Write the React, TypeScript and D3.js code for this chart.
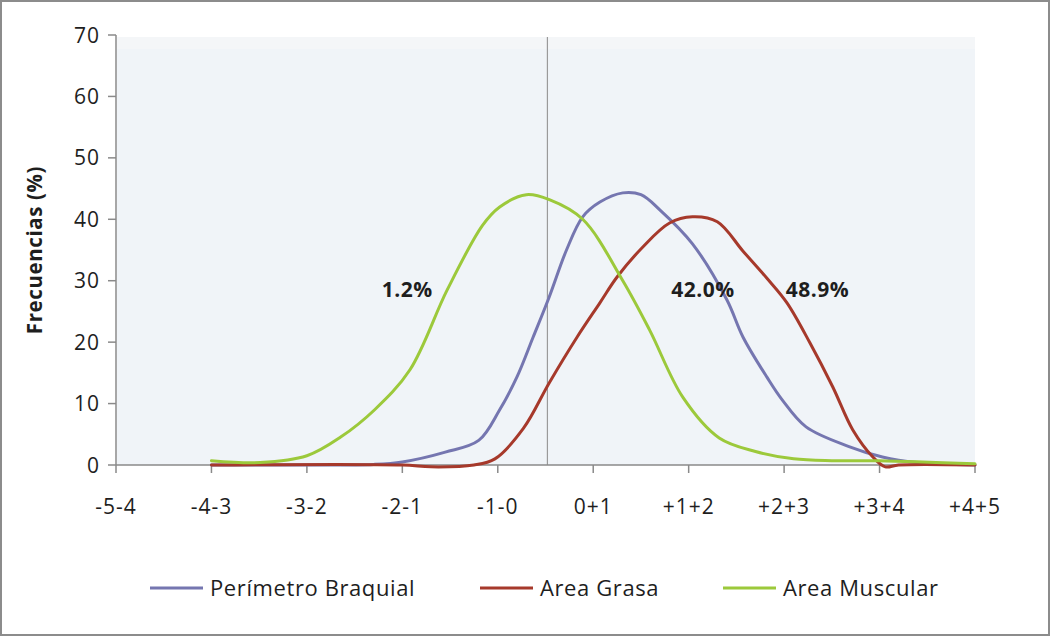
import React from "react";
import * as d3 from "d3";

// Category tick labels (x positions 0..9)
const categories = ["-5-4", "-4-3", "-3-2", "-2-1", "-1-0", "0+1", "+1+2", "+2+3", "+3+4", "+4+5"];
const yTicks = [0, 10, 20, 30, 40, 50, 60, 70];

// Perímetro Braquial
const braquialX = [1.0, 2.0, 2.7, 3.0, 3.45, 3.8, 4.02, 4.2, 4.37, 4.54, 4.72, 4.89, 5.07, 5.31, 5.5, 5.7, 6.04, 6.4, 6.57, 6.82, 6.98, 7.23, 7.68, 8.03, 8.39, 9.0];
const braquialY = [0, 0, 0.1, 0.5, 2.1, 4, 9, 14.3, 20.8, 27.4, 35, 40.4, 42.8, 44.3, 44, 41.5, 36, 26.9, 20.8, 14.3, 10.6, 6.2, 3, 1.3, 0.4, 0];

// Area Grasa
const grasaX = [1.0, 3.0, 3.3, 3.75, 3.97, 4.27, 4.54, 4.83, 5.07, 5.25, 5.52, 5.8, 6.04, 6.3, 6.57, 6.82, 7.03, 7.27, 7.51, 7.72, 7.93, 8.06, 8.2, 9.0];
const grasaY = [0, 0, -0.3, 0, 1, 6, 13.4, 20.8, 26.4, 30.6, 35.5, 39.4, 40.4, 39.6, 34.8, 30.4, 26.4, 19.9, 12.7, 5.7, 1.3, -0.3, 0, 0];

// Area Muscular
const muscularX = [1.0, 1.51, 2.0, 2.35, 2.71, 3.08, 3.47, 3.84, 4.02, 4.3, 4.54, 4.89, 5.31, 5.59, 5.94, 6.32, 6.7, 7.1, 7.5, 8.0, 9.0];
const muscularY = [0.7, 0.4, 1.5, 4.5, 9, 15.5, 28.5, 39, 42, 44, 43.2, 40, 30, 22, 11, 4.4, 2.2, 1.0, 0.7, 0.7, 0.2];

const seriesNames = ["Perímetro Braquial", "Area Grasa", "Area Muscular"];
const seriesColors = ["#7576b0", "#a6392b", "#9cc93b"];

// Annotations (x position in category units, y value)
const annotTexts = ["1.2%", "42.0%", "48.9%"];
const annotX = [3.05, 6.15, 7.35];
const annotY = [28.5, 28.5, 28.5];

const cutoff = 4.52;

export default function App() {
  const W = 1050;
  const H = 636;
  const left = 116;
  const right = 975;
  const top = 35;
  const bottom = 465;

  const x = d3.scaleLinear().domain([0, categories.length - 1]).range([left, right]);
  const y = d3.scaleLinear().domain([0, 70]).range([bottom, top]);

  const line = d3
    .line<[number, number]>()
    .x((d) => x(d[0]))
    .y((d) => y(d[1]))
    .curve(d3.curveCatmullRom.alpha(0.5));

  const series = [
    braquialX.map((v, i) => [v, braquialY[i]] as [number, number]),
    grasaX.map((v, i) => [v, grasaY[i]] as [number, number]),
    muscularX.map((v, i) => [v, muscularY[i]] as [number, number]),
  ];

  const axisColor = "#8a8a8a";
  const textColor = "#1e1e1e";
  const font = "'Open Sans', 'DejaVu Sans', sans-serif";

  const legendLineX = [150, 480, 723];

  return (
    <div style={{ position: "fixed", left: 0, top: 0, width: W, height: H, background: "#fff" }}>
      <svg width={W} height={H} style={{ display: "block" }}>
        <rect x={0} y={0} width={W} height={H} fill="#ffffff" />
        <rect x={1} y={1} width={W - 2} height={H - 2} fill="none" stroke="#8c8c8c" strokeWidth={2} />
        {/* plot background */}
        <rect x={left + 1} y={top + 2} width={right - left - 1} height={bottom - top - 2} fill="#f0f4f8" />
        <rect x={left + 1} y={top + 2} width={right - left - 1} height={12} fill="#f4f6f8" />

        {/* cutoff line */}
        <line x1={x(cutoff)} x2={x(cutoff)} y1={top + 2} y2={bottom} stroke="#9a9a9a" strokeWidth={1.2} />

        {/* y axis */}
        <line x1={left} x2={left} y1={top} y2={bottom} stroke={axisColor} strokeWidth={1.5} />
        {yTicks.map((t) => (
          <g key={t}>
            <line x1={left - 8} x2={left} y1={y(t)} y2={y(t)} stroke={axisColor} strokeWidth={1.5} />
            <text
              x={left - 16}
              y={y(t)}
              dy="0.36em"
              textAnchor="end"
              fontFamily={font}
              fontSize={21}
              letterSpacing={1}
              fill={textColor}
            >
              {t}
            </text>
          </g>
        ))}

        {/* x axis */}
        <line x1={left} x2={right} y1={bottom} y2={bottom} stroke={axisColor} strokeWidth={1.5} />
        {categories.map((c, i) => (
          <g key={c}>
            <line x1={x(i)} x2={x(i)} y1={bottom} y2={bottom + 8} stroke={axisColor} strokeWidth={1.5} />
            <text
              x={x(i)}
              y={514}
              textAnchor="middle"
              fontFamily={font}
              fontSize={21}
              letterSpacing={1}
              fill={textColor}
            >
              {c}
            </text>
          </g>
        ))}

        {/* series */}
        {series.map((s, i) => (
          <path
            key={seriesNames[i]}
            d={line(s) || ""}
            fill="none"
            stroke={seriesColors[i]}
            strokeWidth={3}
            strokeLinejoin="round"
            strokeLinecap="round"
          />
        ))}

        {/* annotations */}
        {annotTexts.map((t, i) => (
          <text
            key={t}
            x={x(annotX[i])}
            y={y(annotY[i])}
            dy="0.36em"
            textAnchor="middle"
            fontFamily={font}
            fontWeight="bold"
            fontSize={21}
            letterSpacing={0.5}
            fill={textColor}
          >
            {t}
          </text>
        ))}

        {/* y title */}
        <text
          transform={`translate(42, 250) rotate(-90)`}
          textAnchor="middle"
          fontFamily={font}
          fontWeight="bold"
          fontSize={20.5}
          letterSpacing={0.6}
          fill={textColor}
        >
          Frecuencias (%)
        </text>

        {/* legend */}
        {seriesNames.map((n, i) => (
          <g key={n}>
            <line
              x1={legendLineX[i]}
              x2={legendLineX[i] + 53}
              y1={588}
              y2={588}
              stroke={seriesColors[i]}
              strokeWidth={3}
            />
            <text
              x={legendLineX[i] + 60}
              y={588}
              dy="0.36em"
              fontFamily={font}
              fontSize={22}
              letterSpacing={0.6}
              fill={textColor}
            >
              {n}
            </text>
          </g>
        ))}
      </svg>
    </div>
  );
}
